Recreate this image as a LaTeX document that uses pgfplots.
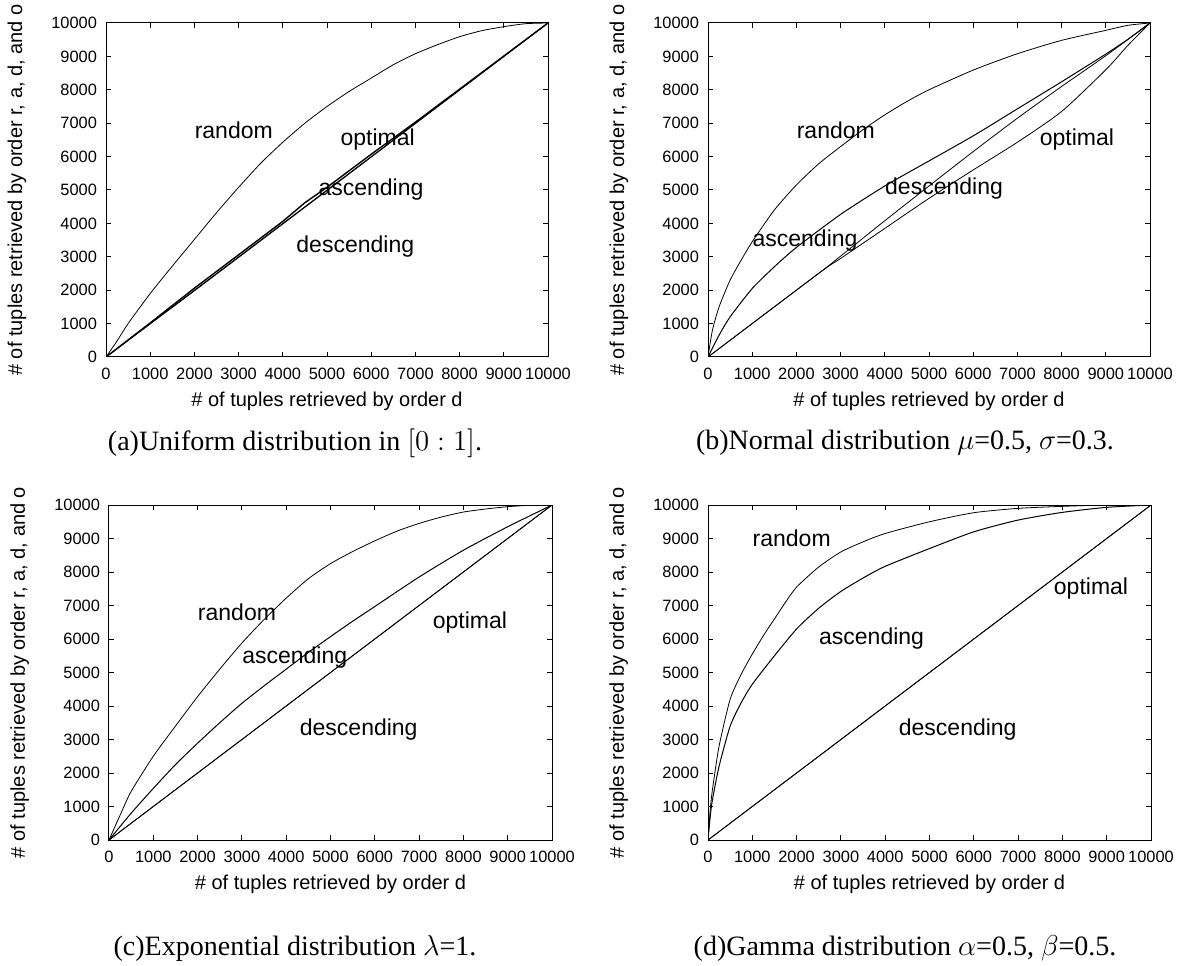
\documentclass[border=0pt]{standalone}
\usepackage{fontspec}
\setmainfont{Liberation Serif}
\setsansfont{Liberation Sans}
\usepackage{pgfplots}
\pgfplotsset{compat=1.18}

\pgfplotsset{
  myax/.style={
    scale only axis, width=221pt, height=167pt,
    xmin=0, xmax=10000, ymin=0, ymax=10000,
    xtick={0,1000,...,10000}, ytick={0,1000,...,10000},
    scaled ticks=false,
    /pgf/number format/1000 sep={},
    /pgf/number format/assume math mode=true,
    tick align=inside, major tick length=2.5pt,
    tick style={black, line width=0.5pt},
    axis line style={black, line width=0.5pt},
    tick label style={font=\sffamily\fontsize{8.2}{9}\selectfont},
    xticklabel style={yshift=-2pt},
    yticklabel style={xshift=-1pt},
    label style={font=\sffamily\fontsize{10}{12}\selectfont},
    xlabel={\# of tuples retrieved by order d},
    ylabel={\# of tuples retrieved by order r, a, d, and o},
    xlabel style={at={(axis description cs:0.5,-0.1317)}, anchor=center},
    ylabel style={at={(axis description cs:-0.2014,0.5)}, anchor=center},
    cycle list={{black, line width=0.5pt, mark=none}},
    no markers,
  },
  sm/.style={smooth, tension=0.4},
}
\tikzset{lbl/.style={anchor=west, inner sep=0pt, font=\sffamily\fontsize{11.5}{13}\selectfont}}

\begin{document}
\begin{tikzpicture}
\useasboundingbox (0,0) rectangle (591.5pt,482.5pt);

% (a) Uniform
\begin{axis}[myax, at={(53pt,304pt)}, anchor=south west]
\addplot+[sm] coordinates {(0,0) (250,480) (500,1000) (1000,1900) (1500,2720) (2000,3520) (2500,4320) (3000,5080) (3500,5800) (4000,6430) (4500,7000) (5000,7500) (5500,7950) (6000,8350) (6500,8750) (7000,9080) (7500,9350) (8000,9590) (8500,9770) (9000,9890) (9500,9980) (10000,10000)};
\addplot+[line width=0.7pt] coordinates {(0,0) (1000,1020) (2000,2060) (3000,3060) (4000,4060) (4500,4620) (5000,5080) (6000,6070) (7000,7030) (8000,8020) (9000,9010) (10000,10000)};
\addplot coordinates {(0,0) (10000,10000)};
\addplot coordinates {(0,0) (2000,1980) (5000,4980) (8000,7990) (10000,10000)};
\node[lbl] at (axis cs:2000,6800) {random};
\node[lbl] at (axis cs:5300,6500) {optimal};
\node[lbl] at (axis cs:4800,5000) {ascending};
\node[lbl] at (axis cs:4300,3300) {descending};
\end{axis}

% (b) Normal
\begin{axis}[myax, at={(354pt,304pt)}, anchor=south west]
\addplot+[sm] coordinates {(0,0) (100,800) (250,1500) (500,2300) (750,2900) (1000,3450) (1500,4400) (2000,5150) (2500,5780) (3000,6300) (3500,6800) (4000,7250) (4500,7650) (5000,8000) (6000,8590) (7000,9080) (8000,9480) (9000,9780) (9500,9930) (10000,10000)};
\addplot+[sm] coordinates {(0,0) (250,650) (500,1200) (1000,2050) (1500,2700) (2000,3280) (3000,4270) (4000,5120) (5000,5870) (6000,6620) (7000,7430) (8000,8240) (9000,9070) (9500,9510) (10000,10000)};
\addplot+[sm] coordinates {(0,0) (2500,2500) (3000,3020) (4000,4080) (5000,5120) (6000,6150) (7000,7150) (8000,8100) (9000,9020) (10000,10000)};
\addplot+[sm] coordinates {(0,0) (2500,2500) (3000,2950) (4000,3850) (5000,4750) (6000,5600) (7000,6430) (8000,7350) (9000,8600) (9500,9330) (10000,10000)};
\node[lbl] at (axis cs:2000,6800) {random};
\node[lbl] at (axis cs:7500,6500) {optimal};
\node[lbl] at (axis cs:4000,5050) {descending};
\node[lbl] at (axis cs:1000,3500) {ascending};
\end{axis}

% (c) Exponential
\begin{axis}[myax, at={(54.5pt,62.5pt)}, anchor=south west, width=221.5pt, height=167.5pt]
\addplot+[sm] coordinates {(0,0) (250,740) (500,1450) (1000,2500) (1500,3400) (2000,4280) (2500,5100) (3000,5880) (3500,6580) (4000,7220) (4500,7800) (5000,8250) (5500,8610) (6000,8930) (6500,9220) (7000,9450) (7500,9640) (8000,9790) (8500,9880) (9000,9950) (9500,9990) (10000,10000)};
\addplot+[sm] coordinates {(0,0) (500,800) (1000,1540) (1500,2250) (2000,2890) (2500,3500) (3000,4080) (3500,4600) (4000,5100) (4500,5600) (5000,6070) (5500,6530) (6000,6970) (7000,7850) (8000,8650) (9000,9350) (10000,10000)};
\addplot coordinates {(0,0) (10000,10000)};
\addplot coordinates {(0,0) (5000,5000) (10000,10000)};
\node[lbl] at (axis cs:2000,6800) {random};
\node[lbl] at (axis cs:3000,5450) {ascending};
\node[lbl] at (axis cs:7300,6500) {optimal};
\node[lbl] at (axis cs:4300,3300) {descending};
\end{axis}

% (d) Gamma
\begin{axis}[myax, at={(354pt,62.5pt)}, anchor=south west, width=221.5pt, height=167.5pt]
\addplot+[sm] coordinates {(0,0) (50,900) (100,1500) (250,2800) (500,4200) (750,4950) (1000,5550) (1250,6100) (1500,6600) (1750,7100) (2000,7550) (2500,8150) (3000,8600) (3500,8900) (4000,9150) (5000,9500) (6000,9770) (7000,9900) (8000,9960) (9000,10000) (10000,10000)};
\addplot+[sm] coordinates {(0,0) (50,700) (100,1200) (250,2200) (500,3400) (750,4100) (1000,4650) (1500,5500) (2000,6300) (2500,6920) (3000,7420) (3500,7820) (4000,8170) (5000,8700) (6000,9200) (7000,9550) (8000,9780) (9000,9930) (10000,10000)};
\addplot coordinates {(0,0) (10000,10000)};
\addplot coordinates {(0,0) (5000,5000) (10000,10000)};
\node[lbl] at (axis cs:1000,9000) {random};
\node[lbl] at (axis cs:2500,6000) {ascending};
\node[lbl] at (axis cs:7800,7500) {optimal};
\node[lbl] at (axis cs:4300,3300) {descending};
\end{axis}

% captions
\node[font=\fontsize{14}{16}\selectfont] at (147.5pt,261pt) {(a)Uniform distribution in $[0:1]$.};
\node[font=\fontsize{14}{16}\selectfont] at (452.5pt,261pt) {(b)Normal distribution $\mu$=0.5, $\sigma$=0.3.};
\node[font=\fontsize{14}{16}\selectfont] at (147.5pt,8.5pt) {(c)Exponential distribution $\lambda$=1.};
\node[font=\fontsize{14}{16}\selectfont] at (452.5pt,8.5pt) {(d)Gamma distribution $\alpha$=0.5, $\beta$=0.5.};
\end{tikzpicture}
\end{document}
